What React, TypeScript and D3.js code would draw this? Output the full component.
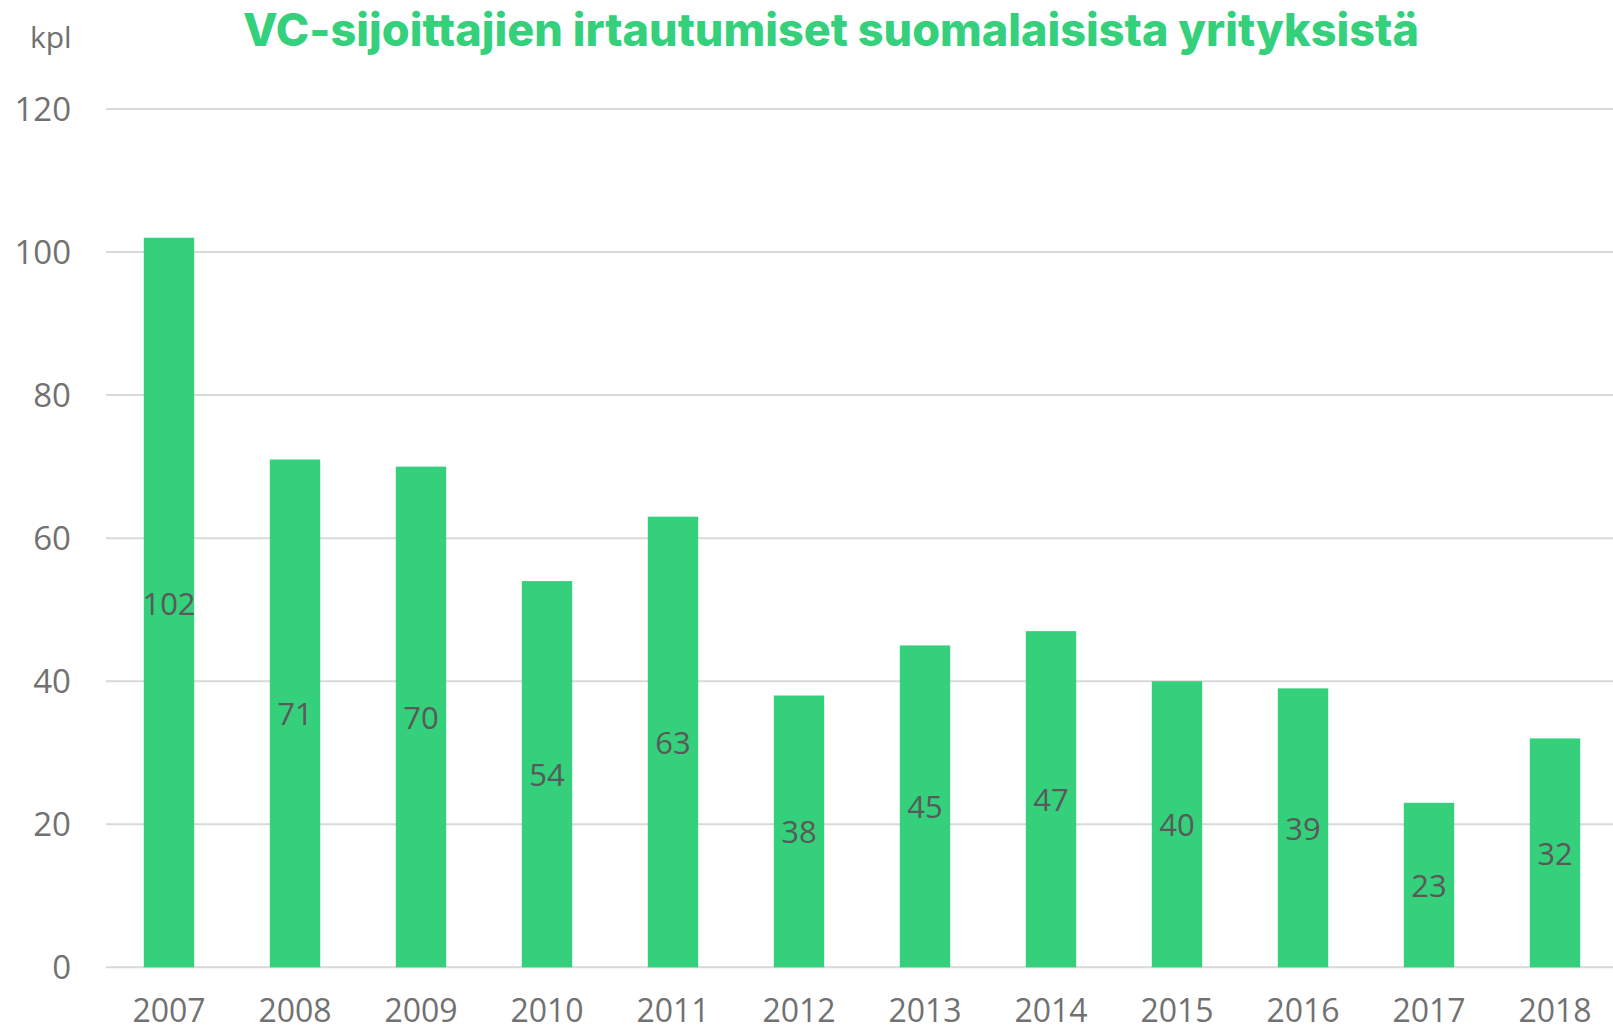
import * as d3 from "d3";
import React, { useEffect, useRef } from "react";

const years = ["2007", "2008", "2009", "2010", "2011", "2012", "2013", "2014", "2015", "2016", "2017", "2018"];
const exits = [102, 71, 70, 54, 63, 38, 45, 47, 40, 39, 23, 32];
const yTicks = [0, 20, 40, 60, 80, 100, 120];
const title = "VC-sijoittajien irtautumiset suomalaisista yrityksistä";
const unitLabel = "kpl";

const App: React.FC = () => {
  const svgRef = useRef<SVGSVGElement | null>(null);

  useEffect(() => {
    const svg = d3.select(svgRef.current);
    svg.selectAll("*").remove();
    const width = 1613;
    const height = 1031;
    const green = "#34d07b";
    const font = "'Open Sans', sans-serif";

    // asse X: anni
    const x = d3
      .scaleBand()
      .domain(years)
      .range([106, 1618])
      .paddingInner(0.6)
      .paddingOuter(0.3);

    // asse Y: numero di uscite
    const y = d3.scaleLinear().domain([0, 120]).range([967.3, 109]);

    // griglia
    svg
      .append("g")
      .selectAll("line")
      .data(yTicks)
      .join("line")
      .attr("x1", 106)
      .attr("x2", 1618)
      .attr("y1", (d) => y(d))
      .attr("y2", (d) => y(d))
      .attr("stroke", "#d9d9d9")
      .attr("stroke-width", 2);

    // etichette asse Y
    svg
      .append("g")
      .selectAll("text")
      .data(yTicks)
      .join("text")
      .attr("x", 71)
      .attr("y", (d) => y(d) + 12)
      .attr("text-anchor", "end")
      .attr("font-family", font)
      .attr("font-size", 33)
      .attr("fill", "#717171")
      .text((d) => d);

    // barre
    svg
      .append("g")
      .selectAll("rect")
      .data(exits)
      .join("rect")
      .attr("x", (_, i) => x(years[i])!)
      .attr("y", (d) => y(d))
      .attr("width", x.bandwidth())
      .attr("height", (d) => y(0) - y(d))
      .attr("fill", green);

    // valori dentro le barre
    svg
      .append("g")
      .selectAll("text")
      .data(exits)
      .join("text")
      .attr("x", (_, i) => x(years[i])! + x.bandwidth() / 2)
      .attr("y", (d) => y(d / 2) + 12)
      .attr("text-anchor", "middle")
      .attr("font-family", font)
      .attr("font-size", 31)
      .attr("fill", "#595959")
      .text((d) => d);

    // etichette asse X
    svg
      .append("g")
      .selectAll("text")
      .data(years)
      .join("text")
      .attr("x", (d) => x(d)! + x.bandwidth() / 2)
      .attr("y", 1022)
      .attr("text-anchor", "middle")
      .attr("font-family", font)
      .attr("font-size", 32)
      .attr("fill", "#717171")
      .text((d) => d);

    // unità
    svg
      .append("text")
      .attr("x", 30)
      .attr("y", 48)
      .attr("font-family", font)
      .attr("font-size", 30)
      .attr("fill", "#717171")
      .text(unitLabel);

    // titolo
    svg
      .append("text")
      .attr("x", 831)
      .attr("y", 46)
      .attr("text-anchor", "middle")
      .attr("font-family", "Inter, sans-serif")
      .attr("font-weight", 800)
      .attr("font-size", 45)
      .attr("fill", green)
      .text(title);

    svg.attr("width", width).attr("height", height);
  }, []);

  return (
    <svg
      ref={svgRef}
      style={{ position: "absolute", left: 0, top: 0, background: "#fff", display: "block" }}
    />
  );
};

export default App;
